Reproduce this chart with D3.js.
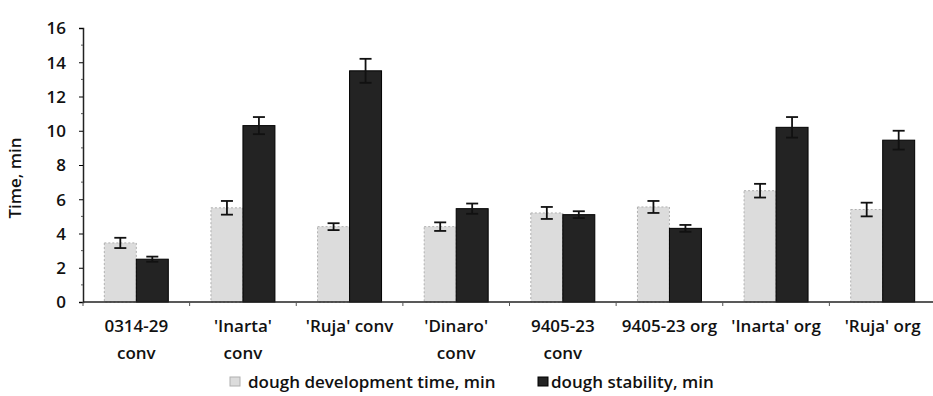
<!doctype html>
<html lang="en">
<head>
  <meta charset="utf-8">
  <style>
    body { margin: 0; background: #fff; }
    text { font-family: "Open Sans", "Liberation Sans", sans-serif; fill: #111; font-weight: 600; }
  </style>
</head>
<body>
  <div id="chart"></div>
  <script src="https://d3js.org/d3.v7.min.js"></script>
  <script>
    // Data
    var categories = [["0314-29", "conv"], ["'Inarta'", "conv"], ["'Ruja' conv"], ["'Dinaro'", "conv"],
                      ["9405-23", "conv"], ["9405-23 org"], ["'Inarta' org"], ["'Ruja' org"]];
    var devTime = [3.45, 5.5, 4.4, 4.4, 5.2, 5.55, 6.5, 5.4];
    var devErr = [0.3, 0.4, 0.2, 0.25, 0.35, 0.35, 0.4, 0.4];
    var stability = [2.5, 10.3, 13.5, 5.45, 5.1, 4.3, 10.2, 9.45];
    var stabErr = [0.15, 0.5, 0.7, 0.3, 0.2, 0.2, 0.6, 0.55];
    var seriesNames = ["dough development time, min", "dough stability, min"];
    var yTicks = [0, 2, 4, 6, 8, 10, 12, 14, 16];

    var width = 933, height = 396;
    var margin = {top: 28, left: 83};
    var w = 853, h = 274;

    var svg = d3.select("#chart").append("svg")
      .attr("width", width).attr("height", height)
      .append("g")
      .attr("transform", "translate(" + margin.left + "," + margin.top + ")");

    var x = d3.scaleBand().domain(d3.range(categories.length)).range([0, w]).paddingInner(0.4).paddingOuter(0.2);
    var xs = d3.scaleBand().domain([0, 1]).range([0, x.bandwidth()]);
    var y = d3.scaleLinear().domain([0, 16]).range([h, 0]);

    // y axis
    var yAxis = svg.append("g").call(d3.axisLeft(y).tickValues(yTicks).tickSize(4).tickFormat(d3.format("d")));
    yAxis.select(".domain").attr("stroke", "#222").attr("stroke-width", 1.5);
    yAxis.selectAll("text").style("font-size", "17px").attr("x", -17).attr("dy", "0.35em");
    svg.append("g").selectAll("line").data(d3.range(1, 16, 2)).enter().append("line")
      .attr("x1", -2).attr("x2", 0).attr("y1", function(d) { return y(d); }).attr("y2", function(d) { return y(d); })
      .attr("stroke", "#555");

    svg.append("text")
      .attr("transform", "translate(" + (-62) + "," + (h / 2 + 13) + ") rotate(-90)")
      .attr("text-anchor", "middle")
      .style("font-size", "17px")
      .text("Time, min");

    var series = [
      {vals: devTime, err: devErr, fill: "#dcdcdc", stroke: "#b0b0b0"},
      {vals: stability, err: stabErr, fill: "#232323", stroke: "#000"}
    ];

    series.forEach(function(s, si) {
      var g = svg.append("g");
      g.selectAll("rect").data(s.vals).enter().append("rect")
        .attr("x", function(d, i) { return x(i) + xs(si); })
        .attr("y", function(d) { return y(d); })
        .attr("width", xs.bandwidth())
        .attr("height", function(d) { return h - y(d); })
        .attr("fill", s.fill)
        .attr("stroke", s.stroke)
        .attr("stroke-dasharray", si === 0 ? "2,2" : null);

      // error bars
      var eb = g.selectAll(".eb").data(s.vals).enter().append("g");
      var cx = function(i) { return x(i) + xs(si) + xs.bandwidth() / 2; };
      eb.append("line")
        .attr("x1", function(d, i) { return cx(i); }).attr("x2", function(d, i) { return cx(i); })
        .attr("y1", function(d, i) { return y(d - s.err[i]); })
        .attr("y2", function(d, i) { return y(d + s.err[i]); })
        .attr("stroke", "#111").attr("stroke-width", 1.8);
      [1, -1].forEach(function(sg) {
        eb.append("line")
          .attr("x1", function(d, i) { return cx(i) - 6; }).attr("x2", function(d, i) { return cx(i) + 6; })
          .attr("y1", function(d, i) { return y(d + sg * s.err[i]); })
          .attr("y2", function(d, i) { return y(d + sg * s.err[i]); })
          .attr("stroke", "#111").attr("stroke-width", 1.8);
      });
    });

    // x axis
    svg.append("line").attr("x1", 0).attr("x2", w).attr("y1", h).attr("y2", h)
      .attr("stroke", "#222").attr("stroke-width", 1.5);
    svg.append("g").selectAll("line").data(d3.range(categories.length + 1)).enter().append("line")
      .attr("x1", function(d) { return d * w / categories.length; })
      .attr("x2", function(d) { return d * w / categories.length; })
      .attr("y1", h).attr("y2", h + 4).attr("stroke", "#555");

    var labels = svg.append("g").selectAll("text").data(categories).enter().append("text")
      .attr("text-anchor", "middle")
      .attr("x", function(d, i) { return x(i) + x.bandwidth() / 2; })
      .attr("y", h + 30)
      .style("font-size", "17px");
    labels.selectAll("tspan").data(function(d) { return d; }).enter().append("tspan")
      .attr("x", function() { return d3.select(this.parentNode).attr("x"); })
      .attr("dy", function(d, i) { return i === 0 ? 0 : 27; })
      .text(function(d) { return d; });

    // legend
    var legX = [147, 455];
    var leg = svg.append("g").selectAll("g").data(seriesNames).enter().append("g")
      .attr("transform", function(d, i) { return "translate(" + legX[i] + "," + (h + 86) + ")"; });
    leg.append("rect").attr("x", 0).attr("y", -11).attr("width", 10).attr("height", 9)
      .attr("fill", function(d, i) { return series[i].fill; })
      .attr("stroke", function(d, i) { return series[i].stroke; });
    leg.append("text").attr("x", function(d, i) { return i === 0 ? 18 : 13; }).attr("y", 0)
      .style("font-size", "17px").text(function(d) { return d; });
  </script>
</body>
</html>
